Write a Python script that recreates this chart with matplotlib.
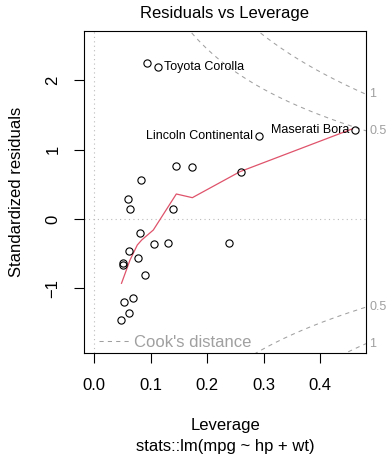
import matplotlib
matplotlib.use("Agg")
import matplotlib.pyplot as plt
from matplotlib.lines import Line2D
import numpy as np

plt.rcParams['font.family'] = ['Liberation Sans', 'DejaVu Sans']

# Data
leverage = [0.1454, 0.1738, 0.2601, 0.0828, 0.0598, 0.0633, 0.1401, 0.0805,
            0.1053, 0.1307, 0.2394, 0.0621, 0.0775, 0.0509, 0.0509, 0.0904,
            0.0691, 0.0521, 0.0621, 0.0479, 0.0929, 0.1135, 0.2915, 0.4628]
std_resid = [0.768, 0.754, 0.673, 0.562, 0.293, 0.148, 0.148, -0.197,
             -0.360, -0.346, -0.350, -0.465, -0.566, -0.638, -0.658, -0.811,
             -1.143, -1.192, -1.354, -1.460, 2.248, 2.195, 1.200, 1.278]
labels = {21: "Toyota Corolla", 22: "Lincoln Continental", 23: "Maserati Bora"}
label_side = {21: "right", 22: "left", 23: "left"}

smooth_x = [0.0482, 0.0633, 0.0762, 0.0840, 0.1046, 0.1454, 0.1738, 0.2583, 0.4580]
smooth_y = [-0.927, -0.591, -0.375, -0.303, -0.159, 0.360, 0.307, 0.682, 1.300]

cook_levels = [0.5, 1]
n_params = 3

xticks = [0.0, 0.1, 0.2, 0.3, 0.4]
xticklabels = ["0.0", "0.1", "0.2", "0.3", "0.4"]
yticks = [-1, 0, 1, 2]
yticklabels = ["\u22121", "0", "1", "2"]

xlim = (-0.0183, 0.4817)
ylim = (-1.927, 2.713)

GRAY = '#a0a0a0'
RED = '#DF536B'

fig = plt.figure(figsize=(3.89, 4.55), dpi=100)
ax = fig.add_axes([84/389, 1-352.7/455, 282/389, 322/455])
ax.set_xlim(*xlim)
ax.set_ylim(*ylim)

# reference dotted lines
ax.axhline(0, color='#bbbbbb', lw=0.8, ls=(0, (1, 3)), zorder=1)
ax.axvline(0, color='#bbbbbb', lw=0.8, ls=(0, (1, 3)), zorder=1)

# Cook's distance contours
hh = np.linspace(0.0005, xlim[1], 400)
for c in cook_levels:
    cl = np.sqrt(c * n_params * (1 - hh) / hh)
    ax.plot(hh, cl, color=GRAY, lw=0.75, ls=(0, (4, 4)), zorder=2)
    ax.plot(hh, -cl, color=GRAY, lw=0.75, ls=(0, (4, 4)), zorder=2)
    yv = np.sqrt(c * n_params * (1 - xlim[1]) / xlim[1])
    for s in (1, -1):
        ax.text(1.012, s * yv, f"{c:g}", color=GRAY, fontsize=9,
                ha='left', va='center',
                transform=ax.get_yaxis_transform(), clip_on=False)

# smoother
ax.plot(smooth_x, smooth_y, color=RED, lw=0.9, zorder=3)

# points
ax.plot(leverage, std_resid, 'o', mfc='none', mec='black', ms=5.2, mew=0.8, zorder=4)

for i, name in labels.items():
    if label_side[i] == "right":
        ax.annotate(name, (leverage[i], std_resid[i]), xytext=(4.0, 0),
                    textcoords='offset points', ha='left', va='center', fontsize=9)
    else:
        ax.annotate(name, (leverage[i], std_resid[i]), xytext=(-4.0, 0),
                    textcoords='offset points', ha='right', va='center', fontsize=9)

# legend
handle = Line2D([0], [0], color=GRAY, lw=0.75, ls=(0, (4, 4)))
leg = ax.legend([handle], ["Cook's distance"], loc='center left',
                bbox_to_anchor=(0.053, 0.031), frameon=False, fontsize=12,
                borderpad=0, borderaxespad=0, handlelength=1.86,
                handletextpad=0.26, labelcolor=GRAY)

# axes style
for sp in ax.spines.values():
    sp.set_linewidth(0.8)
ax.set_xticks(xticks)
ax.set_xticklabels(xticklabels)
ax.set_yticks(yticks)
ax.set_yticklabels(yticklabels)
ax.tick_params(axis='both', direction='out', length=7.5, width=0.8, labelsize=12)
ax.tick_params(axis='x', pad=11)
ax.tick_params(axis='y', pad=9.5, labelrotation=90)
for lab in ax.get_yticklabels():
    lab.set_va('center')

ax.set_xlabel("Leverage", fontsize=12)
ax.xaxis.set_label_coords(0.5, -0.2276)
ax.xaxis.label.set_va('center')
ax.text(0.5, -0.2898, "stats::lm(mpg ~ hp + wt)", fontsize=12, ha='center',
        va='center', transform=ax.transAxes)
ax.set_ylabel("Standardized residuals", fontsize=12)
ax.yaxis.set_label_coords(-0.2400, 0.5)
ax.yaxis.label.set_va('center')

ax.text(0.5, 1.0379, "Residuals vs Leverage", fontsize=12, ha='center',
        va='baseline', transform=ax.transAxes)

fig.savefig("out.png", dpi=100)
